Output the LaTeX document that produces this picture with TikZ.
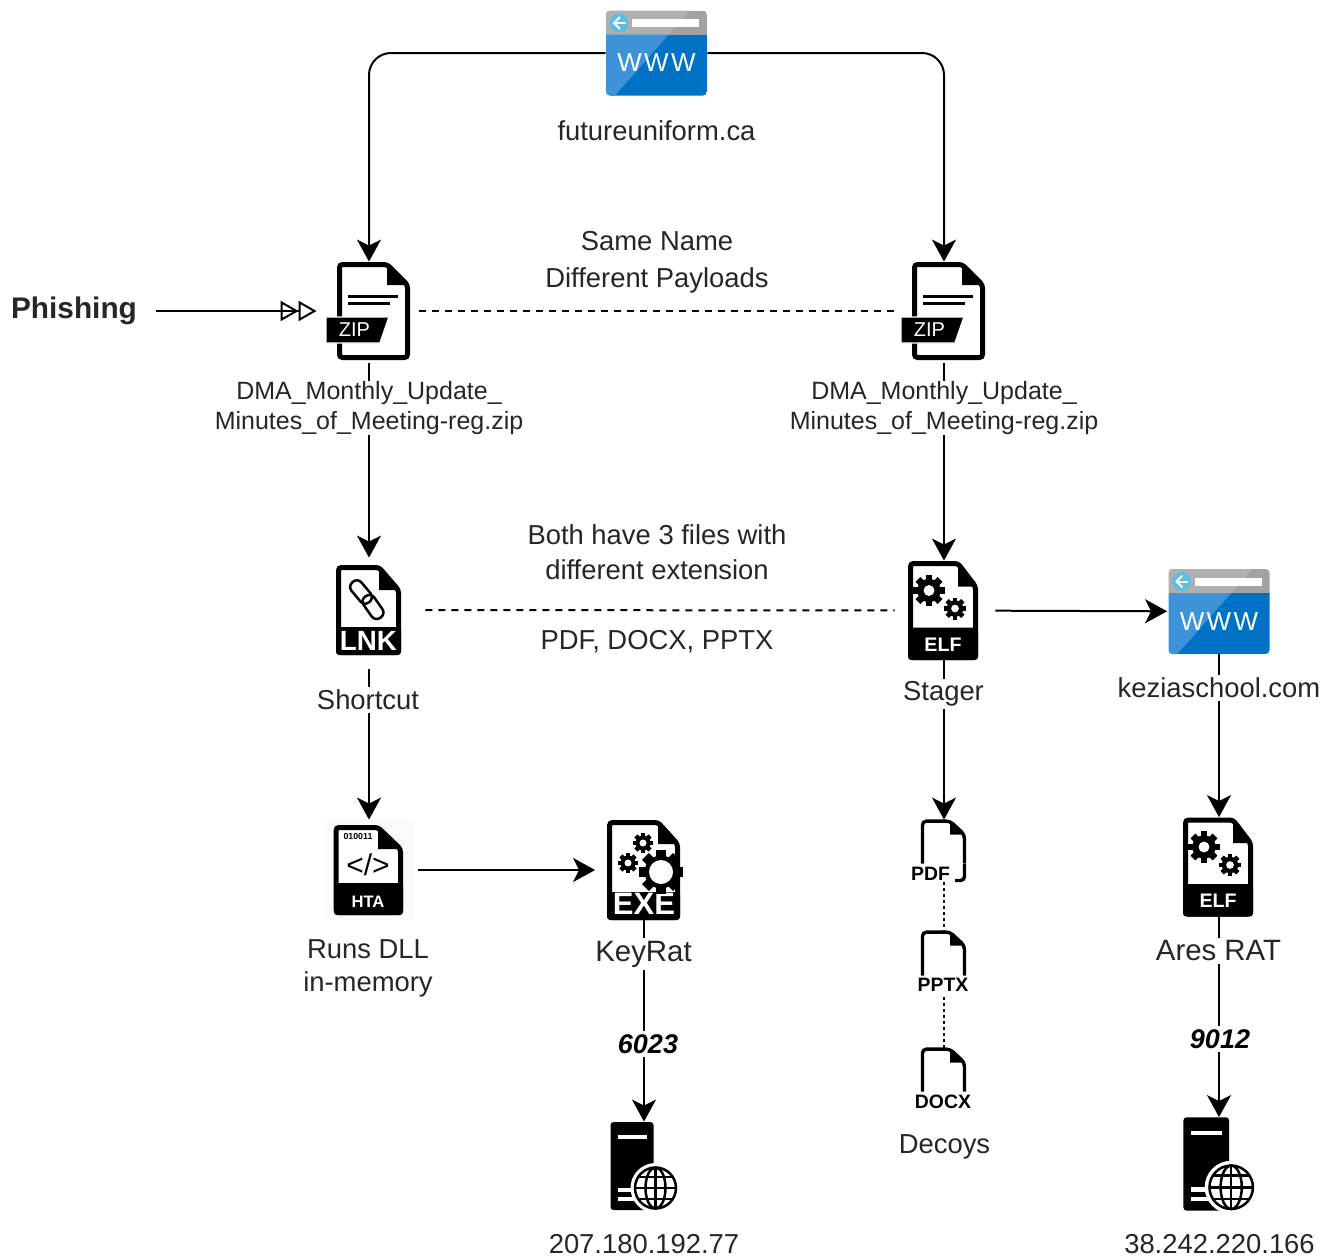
\documentclass[tikz,border=0pt]{standalone}
\usepackage{fontspec}
\setmainfont{Liberation Sans}
\usetikzlibrary{arrows.meta}

\definecolor{labelink}{HTML}{262626}
\definecolor{webblue}{HTML}{0072C6}
\definecolor{webbluelt}{HTML}{3E92D8}
\definecolor{webgray}{HTML}{A2A2A2}
\definecolor{webgraylt}{HTML}{B0B0B0}
\definecolor{webback}{HTML}{5BBCE4}

\newcommand{\docbody}[6]{%
\filldraw[black,fill=white,line width=2.5pt,rounded corners=1.5pt] (#1,#4) -- (#1,#3) -- (#5,#3) -- (#2,#6) -- (#2,#4) -- cycle;
\fill[black] (#5,#3) -- (#2,#6) -- (#5,#6) -- cycle;
}

\tikzset{
iconbox/.style 2 args={inner sep=0,minimum width=#1*0.5pt,minimum height=#2*0.5pt},
lbl/.style={fill=white,inner sep=1.5pt,align=center,text=labelink,font=\fontsize{13.7}{17}\selectfont},
filelbl/.style={lbl,inner sep=0pt,font=\fontsize{12.5}{15}\selectfont},
bigslbl/.style={lbl,font=\fontsize{14.7}{17}\selectfont},
portlbl/.style={lbl,text=black,font=\fontsize{13.5}{16}\selectfont\bfseries\itshape},
decoylbl/.style={fill=white,inner sep=0.5pt,font=\fontsize{9.7}{11}\selectfont\bfseries},
flow/.style={line width=1pt,-{Stealth[length=11pt,width=12pt,inset=3pt]}},
dashlink/.style={line width=1pt,dash pattern=on 3.5pt off 3pt},
dotlink/.style={line width=1pt,dash pattern=on 1.5pt off 1.5pt},
gear/.pic={
\foreach \a in {0,45,...,315}
\fill[black,rotate=\a] (-2.2,-10) rectangle (2.2,-5);
\fill[black] (0,0) circle (7.5);
\fill[white] (0,0) circle (3.5);
},
webicon/.pic={
\begin{scope}
\clip[rounded corners=2pt] (-50.5,-42.5) rectangle (50.5,42.5);
\fill[webgray] (-50.5,-42.5) rectangle (50.5,-18.5);
\fill[webgraylt] (-50.5,-42.5) -- (33.5,-42.5) -- (12.3,-18.5) -- (-50.5,-18.5) -- cycle;
\fill[webblue] (-50.5,-18.5) rectangle (50.5,42.5);
\fill[webbluelt] (-50.5,-18.5) -- (12.3,-18.5) -- (-41.5,42.5) -- (-50.5,42.5) -- cycle;
\end{scope}
\fill[webback] (-37.5,-30) circle (9.5);
\draw[white,line width=1pt,-{Straight Barb[length=3pt,width=6pt]}] (-31,-30) -- (-44,-30);
\fill[white] (-24.5,-34) rectangle (42.5,-26);
\node[text=white,inner sep=0,font=\fontsize{13}{15}\selectfont\addfontfeature{LetterSpace=9}] (webtxt) at (0,10) {WWW};
},
zipicon/.pic={
\docbody{-29.5}{38.5}{-46.5}{46.5}{18}{-26}
\draw[black,line width=1.5pt] (-21,-15) -- (29,-15);
\draw[black,line width=1.5pt] (-21,-8) -- (21,-8);
\filldraw[fill=black,draw=white,line width=0.7pt] (-43,6) -- (20,6) -- (11,32) -- (-43,32) -- cycle;
\node[text=white,inner sep=0,font=\fontsize{10}{12}\selectfont] (ziptxt) at (-14.5,19) {ZIP};
},
lnkicon/.pic={
\docbody{-30.5}{29.5}{-42.5}{42.5}{10}{-20}
\fill[black,rounded corners=1.5pt] (-33,17) rectangle (32,45);
\node[text=white,inner sep=0,font=\fontsize{13.9}{15}\selectfont\bfseries] (lnktxt) at (-0.5,31) {LNK};
\draw[black,line width=1.25pt,rounded corners=3pt,shift={(-8,-18)},rotate=-50] (-13,-6.5) rectangle (13,6.5);
\draw[black,line width=1.25pt,rounded corners=3pt,shift={(4,-3)},rotate=-55] (-13,-6.5) rectangle (13,6.5);
},
elficon/.pic={
\docbody{-33.5}{31.5}{-47}{47}{14}{-24}
\fill[black,rounded corners=1.5pt] (-36,17) rectangle (34,49.5);
\node[text=white,inner sep=0,font=\fontsize{9.8}{12}\selectfont\bfseries] (elftxt) at (-1,34) {ELF};
\pic[scale=1.56] at (-15,-20) {gear};
\pic[scale=1.1] at (11,-2) {gear};
},
exeicon/.pic={
\docbody{-34.5}{33.5}{-47.5}{47.5}{14}{-26}
\fill[black,rounded corners=1.5pt] (-37,22) rectangle (36,50);
\node[text=white,inner sep=0,font=\fontsize{15.5}{17}\selectfont\bfseries] (exetxt) at (0,34) {EXE};
\pic at (-1,-27) {gear};
\pic at (-16,-7) {gear};
\pic[scale=2.2] at (17,2) {gear};
\fill[white] (17,2) circle (12);
},
htaicon/.pic={
\fill[black!2] (-44,-50) rectangle (46,50);
\docbody{-33}{31.5}{-42.5}{42.5}{9}{-21}
\fill[black,rounded corners=1.5pt] (-35,13) rectangle (34,45);
\node[text=white,inner sep=0,font=\fontsize{8.3}{10}\selectfont\bfseries] (htatxt) at (-1,32) {HTA};
\node[text=black,inner sep=0,font=\fontsize{4.4}{5}\selectfont\bfseries] (htabits) at (-11,-34) {010011};
\node[text=black,inner sep=0,font=\fontsize{15}{17}\selectfont] (htatag) at (-1,-5) {</>};
},
servericon/.pic={
\fill[black,rounded corners=1.5pt] (-33.5,-45) rectangle (9.5,43);
\fill[white] (-26,-32) rectangle (3,-28);
\fill[white] (-26,21) rectangle (-4,25);
\fill[white] (-26,30) rectangle (-4,34);
\begin{scope}[shift={(11.5,21)}]
\fill[white] (0,0) circle (25);
\draw[black,line width=1.25pt] (0,0) circle (20.5);
\draw[black,line width=1.25pt] (0,0) ellipse (10 and 20.5);
\draw[black,line width=1.25pt] (0,-20.5) -- (0,20.5);
\draw[black,line width=1.25pt] (-20.5,0) -- (20.5,0);
\draw[black,line width=1.25pt] (-17,-11) -- (17,-11);
\draw[black,line width=1.25pt] (-17,11) -- (17,11);
\end{scope}
},
decoyicon/.pic={
\filldraw[black,fill=white,line width=1.7pt,rounded corners=2pt] (-21.5,#1) -- (-21.5,1.5) -- (6,1.5) -- (20.5,15) -- (20.5,#1);
\fill[black] (6,1.5) -- (20.5,15) -- (6,15) -- cycle;
},
}

\begin{document}
\begin{tikzpicture}[x=0.5pt,y=-0.5pt]
\useasboundingbox (0,0) rectangle (1324,1258);

\node[iconbox={101}{85}] (weba) at (656.5,53) {};
\node[iconbox={101}{85}] (webb) at (1219,611.5) {};
\node[iconbox={82}{98}] (zipa) at (369,311) {};
\node[iconbox={82}{98}] (zipb) at (944,311) {};
\node[iconbox={66}{90}] (lnkfile) at (369,610) {};
\node[iconbox={72}{99}] (elfa) at (944,610.5) {};
\node[iconbox={72}{99}] (elfb) at (1219,867) {};
\node[iconbox={70}{90}] (htafile) at (369,870) {};
\node[iconbox={73}{100}] (exefile) at (644,870) {};
\node[iconbox={67}{90}] (srva) at (644,1167) {};
\node[iconbox={72}{95}] (srvb) at (1219,1165) {};
\node[iconbox={46}{62}] (docpdf) at (944,851) {};
\node[iconbox={46}{66}] (docppt) at (944,964) {};
\node[iconbox={46}{66}] (docdoc) at (944,1081) {};
\node[font=\fontsize{14.9}{17}\selectfont\bfseries,text=labelink,inner sep=0] (phish) at (74,311) {Phishing};

\draw[flow,rounded corners=11pt] (weba.west) -| (zipa.north);
\draw[flow,rounded corners=11pt] (weba.east) -| (zipb.north);
\draw[line width=1pt,shorten <=9.5pt,shorten >=5.5pt,-{Triangle[open,length=9pt,width=10pt]Triangle[open,length=9pt,width=10pt]}] (phish) -- (zipa);
\draw[dashlink,shorten <=4.5pt,shorten >=4pt] (zipa) -- (zipb);
\draw[dashlink,shorten <=11.5pt,shorten >=6.5pt] (lnkfile) -- (elfa);
\draw[flow,shorten <=1.5pt,shorten >=3.5pt] (zipa) -- (lnkfile);
\draw[flow,shorten <=1.5pt] (zipb) -- (elfa);
\draw[flow,shorten <=7pt,shorten >=2.5pt] (lnkfile) -- (htafile);
\draw[flow,shorten <=7pt,shorten >=6pt] (htafile) -- (exefile);
\draw[flow] (exefile) -- (srva);
\draw[flow,shorten <=7.5pt,shorten >=0.5pt] (elfa) -- (webb);
\draw[flow] (elfa) -- (docpdf);
\draw[dotlink] (docpdf) -- (docppt);
\draw[dotlink] (docppt) -- (docdoc);
\draw[flow] (webb) -- (elfb);
\draw[flow] (elfb) -- (srvb);

\pic at (weba) {webicon};
\pic at (webb) {webicon};
\pic at (zipa) {zipicon};
\pic at (zipb) {zipicon};
\pic at (lnkfile) {lnkicon};
\pic at (elfa) {elficon};
\pic at (elfb) {elficon};
\pic at (htafile) {htaicon};
\pic at (exefile) {exeicon};
\pic at (srva) {servericon};
\pic[scale=1.06] at (srvb) {servericon};
\pic at (docpdf.north) {decoyicon=44};
\draw[black,line width=1.7pt,rounded corners=2pt] (964.5,864) -- (964.5,880.5) -- (955,880.5);
\pic at (docppt.north) {decoyicon=45};
\pic at (docdoc.north) {decoyicon=44};

\node[lbl] (webaname) at (656.5,131) {futureuniform.ca};
\node[lbl,font=\fontsize{13.7}{18.5}\selectfont] (samename) at (657,262) {Same Name\\Different Payloads};
\node[filelbl] (zipaname) at (369,408) {DMA\_Monthly\_Update\_\\Minutes\_of\_Meeting-reg.zip};
\node[filelbl] (zipbname) at (944,408) {DMA\_Monthly\_Update\_\\Minutes\_of\_Meeting-reg.zip};
\node[lbl,font=\fontsize{13.7}{17.5}\selectfont] (bothnote) at (657,552) {Both have 3 files with\\different extension};
\node[lbl] (extnote) at (657,642) {PDF, DOCX, PPTX};
\node[lbl] (lnkname) at (368,700) {Shortcut};
\node[lbl] (elfaname) at (943.5,694) {Stager};
\node[lbl,inner xsep=0pt] (webbname) at (1219,688) {keziaschool.com};
\node[lbl,font=\fontsize{13.7}{16.5}\selectfont] (htaname) at (368,968) {Runs DLL\\in-memory};
\node[bigslbl] (exename) at (643.5,954) {KeyRat};
\node[bigslbl] (elfbname) at (1218.5,951) {Ares RAT};
\node[portlbl] (porta) at (648,1044) {6023};
\node[portlbl] (portb) at (1220,1039) {9012};
\node[lbl] (decoyname) at (944.5,1147) {Decoys};
\node[lbl] (srvaname) at (644,1244) {207.180.192.77};
\node[lbl] (srvbname) at (1219.5,1244) {38.242.220.166};
\node[decoylbl] (pdfname) at (930.5,874) {PDF};
\node[decoylbl] (pptname) at (943,985) {PPTX};
\node[decoylbl] (docname) at (943,1102) {DOCX};
\end{tikzpicture}
\end{document}
